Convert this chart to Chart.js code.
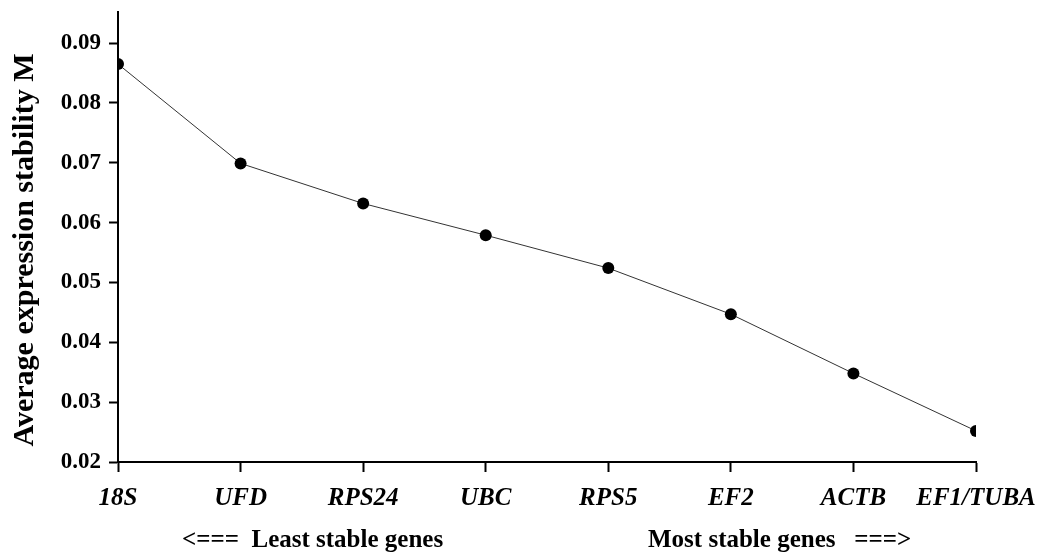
<!DOCTYPE html>
<html>
<head>
<meta charset="utf-8">
<script src="https://cdn.jsdelivr.net/npm/chart.js@4.4.1/dist/chart.umd.min.js"></script>
<style>
    html, body { margin: 0; padding: 0; background: #ffffff; }
    #wrap { width: 1037px; height: 553px; position: relative; }
</style>
</head>
<body>
<div id="wrap"><canvas id="stabilityChart"></canvas></div>
<script>
const genes = ["18S", "UFD", "RPS24", "UBC", "RPS5", "EF2", "ACTB", "EF1/TUBA"];
const stabilityM = [0.0865, 0.0699, 0.0632, 0.0579, 0.0524, 0.0447, 0.0348, 0.0252];
const yTickValues = [0.02, 0.03, 0.04, 0.05, 0.06, 0.07, 0.08, 0.09];
const yTitle = "Average expression stability M";
const footLabels = ["<===  Least stable genes", "Most stable genes   ===>"];

const serif = "'Liberation Serif', 'Times New Roman', serif";

// axis title and the two footnotes are placed by hand, the scale title can't be moved down
const extraText = {
    id: "extraText",
    afterDraw(chart) {
        const ctx = chart.ctx;
        ctx.save();
        ctx.fillStyle = "#000000";
        ctx.textBaseline = "alphabetic";

        ctx.font = "bold 25px " + serif;
        ctx.textAlign = "left";
        ctx.fillText(footLabels[0], 182, 547);
        ctx.fillText(footLabels[1], 648, 547);

        ctx.translate(33, 250);
        ctx.rotate(-Math.PI / 2);
        ctx.font = "bold 30px " + serif;
        ctx.textAlign = "center";
        ctx.fillText(yTitle, 0, 0);
        ctx.restore();
    }
};

new Chart(document.getElementById("stabilityChart"), {
    type: "line",
    data: {
        labels: genes,
        datasets: [{
            data: stabilityM,
            borderColor: "#333333",
            borderWidth: 1,
            pointRadius: 6,
            pointHoverRadius: 6,
            pointBackgroundColor: "#000000",
            pointBorderColor: "#000000",
            pointBorderWidth: 0,
            tension: 0,
            fill: false,
            clip: { left: 0, right: 0, top: 10, bottom: 10 }
        }]
    },
    options: {
        responsive: true,
        maintainAspectRatio: false,
        animation: false,
        layout: { padding: { top: 12, right: 61, bottom: 0, left: 0 } },
        plugins: {
            legend: { display: false },
            tooltip: { enabled: false }
        },
        scales: {
            x: {
                type: "category",
                offset: false,
                border: { color: "#000000", width: 2 },
                grid: {
                    drawOnChartArea: false,
                    drawTicks: true,
                    tickLength: 10,
                    tickColor: "#000000",
                    tickWidth: 2
                },
                ticks: {
                    color: "#000000",
                    padding: 12,
                    maxRotation: 0,
                    autoSkip: false,
                    font: { family: serif, size: 25, weight: "bold", style: "italic" }
                },
                afterFit(scale) {
                    scale.height = 91;
                    scale.paddingLeft = 0;
                    scale.paddingRight = 0;
                }
            },
            y: {
                min: 0.02,
                max: 0.0952,
                border: { color: "#000000", width: 2 },
                grid: {
                    drawOnChartArea: false,
                    drawTicks: true,
                    tickLength: 9,
                    tickColor: "#000000",
                    tickWidth: 2
                },
                afterBuildTicks(scale) {
                    scale.ticks = yTickValues.map((value) => ({ value }));
                },
                ticks: {
                    color: "#000000",
                    padding: 8,
                    callback: (value) => Number(value).toFixed(2),
                    font: { family: serif, size: 23, weight: "bold" }
                },
                afterFit(scale) {
                    scale.width = 118;
                    scale.paddingTop = 0;
                    scale.paddingBottom = 0;
                }
            }
        }
    },
    plugins: [extraText]
});
</script>
</body>
</html>
